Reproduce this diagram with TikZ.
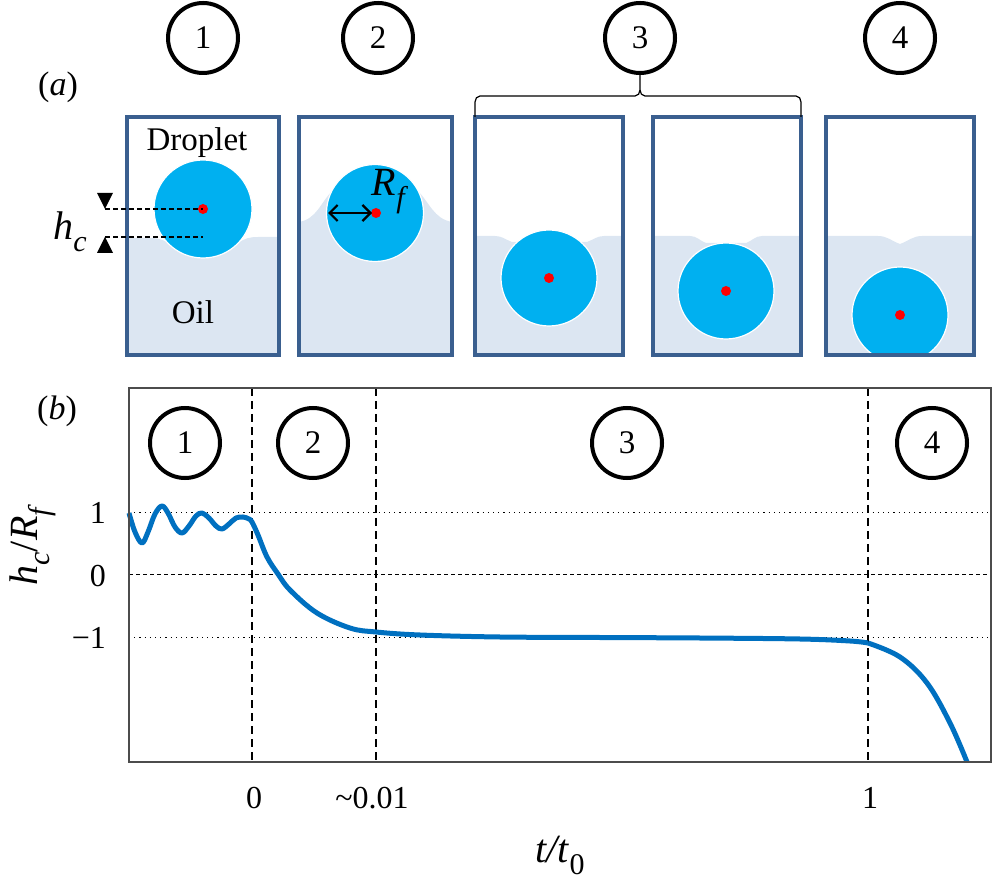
\documentclass[tikz,border=0pt]{standalone}
\usepackage{fontspec}
\setmainfont{Liberation Serif}
\usetikzlibrary{arrows.meta}
\definecolor{drop}{HTML}{00B0F0}
\definecolor{oil}{HTML}{DCE6F2}
\definecolor{cellline}{HTML}{3A5F8F}
\definecolor{curveblue}{HTML}{0070C0}
\tikzset{
	stage/.style={circle, draw, line width=2pt, minimum size=35pt, inner sep=0pt, font=\fontsize{16.5}{16.5}\selectfont},
	cell/.style={draw=cellline, line width=1.6pt},
	droplet/.style={fill=drop, draw=white, line width=0.6pt},
	centre/.style={fill=red},
	gridline/.style={line width=0.5pt, dash pattern=on 0.6pt off 2pt},
	phase/.style={line width=0.8pt, dash pattern=on 4pt off 2.5pt},
	ticklabel/.style={font=\fontsize{16}{16}\selectfont},
	textlabel/.style={font=\fontsize{16.5}{16.5}\selectfont},
	biglabel/.style={font=\fontsize{20}{20}\selectfont}
}
\newcommand{\lowsub}[1]{\raisebox{-0.3em}{\fontsize{15}{15}\selectfont #1}}

\begin{document}
\begin{tikzpicture}[x=0.5pt, y=0.5pt]
	\useasboundingbox (0,0) rectangle (994,-886);
	% (a) the five cells
	\node[font=\fontsize{17}{17}\selectfont] (labela) at (58,-87) {(\textit{a})};
	\node[stage] (sa1) at (203,-38) {1};
	\node[stage] (sa2) at (378,-38) {2};
	\node[stage] (sa3) at (640,-38) {3};
	\node[stage] (sa4) at (900,-38) {4};
	% oil
	\fill[oil] (127,-238) -- (145,-238) to[out=0,in=145] (168,-243) -- (203,-250) -- (238,-243) to[out=35,in=180] (258,-237) -- (279,-237) -- (279,-355) -- (127,-355) -- cycle;
	\fill[oil] (299,-222) to[out=10,in=225] (333,-190) -- (417,-190) to[out=-45,in=170] (452,-222) -- (452,-355) -- (299,-355) -- cycle;
	\fill[oil] (475,-236) -- (495,-236) to[out=0,in=160] (512,-242) -- (587,-242) to[out=20,in=180] (604,-236) -- (623,-236) -- (623,-355) -- (475,-355) -- cycle;
	\fill[oil] (653,-236) -- (690,-236) to[out=0,in=160] (706,-243) -- (746,-243) to[out=20,in=180] (762,-236) -- (801,-236) -- (801,-355) -- (653,-355) -- cycle;
	\fill[oil] (826,-236) -- (878,-236) to[out=0,in=160] (900,-244) to[out=20,in=180] (922,-236) -- (974,-236) -- (974,-355) -- (826,-355) -- cycle;
	% droplets
	\draw[droplet] (203,-209) circle (49);
	\draw[droplet] (375,-213) circle (48.5);
	\draw[droplet] (549,-278) circle (48);
	\draw[droplet] (726,-291) circle (48);
	\begin{scope}
		\clip (826,-117) rectangle (974,-355);
		\draw[droplet] (900,-315) circle (48);
	\end{scope}
	\fill[centre] (203,-209) circle (5);
	\fill[centre] (376,-213) circle (5);
	\fill[centre] (549,-278) circle (5);
	\fill[centre] (726,-291) circle (5);
	\fill[centre] (900,-315) circle (5);
	% cell walls
	\draw[cell] (127,-117) rectangle (279,-355);
	\draw[cell] (299,-117) rectangle (452,-355);
	\draw[cell] (475,-117) rectangle (623,-355);
	\draw[cell] (653,-117) rectangle (801,-355);
	\draw[cell] (826,-117) rectangle (974,-355);
	\draw[line width=0.6pt] (475,-117) -- (475,-102) to[out=90,in=180] (480,-96) -- (635,-96) to[out=0,in=-90] (640,-90) -- (sa3.south);
	\draw[line width=0.6pt] (801,-117) -- (801,-102) to[out=90,in=0] (796,-96) -- (645,-96) to[out=180,in=-90] (640,-90);
	\node[textlabel] (drop) at (197,-143) {Droplet};
	\node[textlabel] (oil) at (193,-312) {Oil};
	% h_c and R_f
	\draw[line width=0.6pt, dash pattern=on 2.5pt off 1.5pt] (105,-209) -- (203,-209);
	\draw[line width=0.6pt, dash pattern=on 2.5pt off 1.5pt] (105,-237) -- (203,-237);
	\fill (97,-193) -- (113,-193) -- (105,-209) -- cycle;
	\fill (97,-253) -- (113,-253) -- (105,-237) -- cycle;
	\node[biglabel] (hc) at (70,-232) {\textit{h}\lowsub{\textit{c}}};
	\draw[{Straight Barb[length=4pt,width=8pt]}-{Straight Barb[length=4pt,width=8pt]}, line width=1.1pt] (328,-213) -- (372,-213);
	\node[biglabel] (rf) at (390,-192) {\textit{R}\lowsub{\textit{f}}};

	% (b) the plot
	\node[font=\fontsize{17}{17}\selectfont] (labelb) at (57,-411) {(\textit{b})};
	\draw[gridline] (129,-513) -- (991,-513);
	\draw[line width=0.5pt, dash pattern=on 2pt off 1.5pt] (129,-574) -- (991,-574);
	\draw[gridline] (129,-637) -- (991,-637);
	\draw[phase] (252,-388) -- (252,-762);
	\draw[phase] (376,-388) -- (376,-762);
	\draw[phase] (868,-388) -- (868,-762);
	\node[stage] (sb1) at (185,-443) {1};
	\node[stage] (sb2) at (313,-443) {2};
	\node[stage] (sb3) at (627,-443) {3};
	\node[stage] (sb4) at (932,-443) {4};
	\draw[curveblue, line width=2.5pt, line join=round] plot[smooth, tension=0.6] coordinates {(129,-513) (135,-532) (142,-543) (148,-532) (155,-514) (162,-506) (168,-513) (175,-527) (182,-533) (189,-526) (196,-516) (202,-513) (209,-518) (216,-526) (222,-529) (229,-524) (236,-518) (243,-517) (249,-519) (252,-522) (258,-535) (267,-557) (278,-574) (290,-590) (317,-613) (350,-628) (376,-632) (420,-635) (500,-637) (600,-637.5) (700,-638) (800,-639) (850,-641) (868,-643)};
	\draw[curveblue, line width=2.5pt] plot[smooth, tension=0.6] coordinates {(868,-643) (900,-657) (927,-683) (950,-723) (967,-762)};
	\draw[black!70, line width=0.7pt] (129,-388) rectangle (991,-762);
	\node[ticklabel, anchor=east] (y1) at (113,-513) {1};
	\node[ticklabel, anchor=east] (y0) at (113,-576) {0};
	\node[ticklabel, anchor=east] (ym1) at (113,-638) {−1};
	\node[ticklabel] (x0) at (254,-798) {0};
	\node[ticklabel] (x001) at (372,-798) {\textasciitilde0.01};
	\node[ticklabel] (x1) at (870,-798) {1};
	\node[biglabel] (xlab) at (560,-855) {\textit{t/t}\lowsub{0}};
	\node[biglabel, rotate=90] (ylab) at (33,-545) {\textit{h}\lowsub{\textit{c}}/\textit{R}\lowsub{\textit{f}}};
\end{tikzpicture}
\end{document}
